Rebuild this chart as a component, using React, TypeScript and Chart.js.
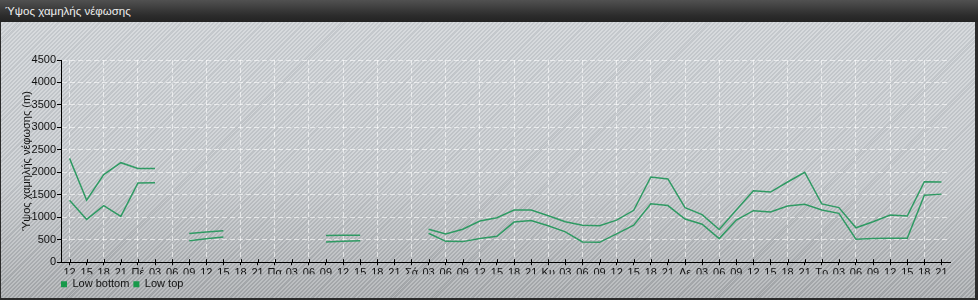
import React, { useEffect, useRef } from "react";
import { Chart, registerables } from "chart.js";

Chart.register(...registerables);

const TITLE = "Ύψος χαμηλής νέφωσης";
const Y_TITLE = "Ύψος χαμηλής νέφωσης (m)";

const xLabels = [
  "12", "15", "18", "21",
  "Πέ", "03", "06", "09", "12", "15", "18", "21",
  "Πα", "03", "06", "09", "12", "15", "18", "21",
  "Σά", "03", "06", "09", "12", "15", "18", "21",
  "Κυ", "03", "06", "09", "12", "15", "18", "21",
  "Δε", "03", "06", "09", "12", "15", "18", "21",
  "Τρ", "03", "06", "09", "12", "15", "18", "21",
];

const seriesNames = ["Low bottom", "Low top"];

const lowBottom = [
  1380, 952, 1260, 1020,
  1763, 1770, null, 480, 520, 560, null, null,
  null, null, null, 450, 465, 475, null, null,
  null, 645, 465, 458, 525, 578, 893, 930,
  810, 675, 450, 442, 630, 825, 1298, 1260,
  960, 845, 525, 937, 1147, 1117, 1252, 1290,
  1162, 1087, 510, 525, 532, 532, 1492, 1515,
];

const lowTop = [
  2310, 1380, 1950, 2215,
  2085, 2085, null, 640, 670, 700, null, null,
  null, null, null, 595, 600, 600, null, null,
  null, 735, 630, 735, 915, 990, 1162, 1162,
  1035, 900, 825, 810, 937, 1155, 1897, 1853,
  1215, 1060, 727, 1162, 1590, 1560, 1785, 2002,
  1297, 1215, 765, 900, 1050, 1027, 1792, 1785,
];

const Y_MIN = 0;
const Y_MAX = 4500;
const Y_STEP = 500;

const LINE_COLOR = "#2f9a63";
const LEGEND_COLOR = "#18994b";
const GRID_COLOR = "rgba(255,255,255,0.6)";
const FONT = '"Liberation Sans", Arial, sans-serif';

export default function App() {
  const ref = useRef<HTMLCanvasElement | null>(null);

  useEffect(() => {
    document.body.style.margin = "0";
    const canvas = ref.current;
    if (!canvas) return;

    const tweaks = {
      id: "tweaks",
      afterLayout(chart: any) {
        const lg = chart.legend;
        if (lg) {
          lg.left = 57;
          lg.top = chart.chartArea.bottom + 12.5;
        }
      },
      afterDraw(chart: any) {
        const x = chart.scales.x;
        const ctx = chart.ctx;
        ctx.save();
        ctx.strokeStyle = "#000";
        ctx.lineWidth = 1;
        ctx.beginPath();
        for (let i = 0; i < xLabels.length; i++) {
          const px = Math.round(x.getPixelForTick(i)) + 0.5;
          ctx.moveTo(px, x.top - 3);
          ctx.lineTo(px, x.top);
        }
        ctx.stroke();
        ctx.restore();
      },
    };

    const chart = new Chart(canvas, {
      type: "line",
      data: {
        labels: xLabels,
        datasets: [
          {
            label: seriesNames[0],
            data: lowBottom,
            borderColor: LINE_COLOR,
            backgroundColor: LEGEND_COLOR,
            borderWidth: 1.5,
            pointRadius: 0,
            spanGaps: false,
            tension: 0,
          },
          {
            label: seriesNames[1],
            data: lowTop,
            borderColor: LINE_COLOR,
            backgroundColor: LEGEND_COLOR,
            borderWidth: 1.5,
            pointRadius: 0,
            spanGaps: false,
            tension: 0,
          },
        ],
      },
      options: {
        animation: false,
        responsive: false,
        maintainAspectRatio: false,
        devicePixelRatio: 1,
        layout: { padding: { left: 0, right: 28, top: 38, bottom: 0.8 } },
        plugins: {
          tooltip: { enabled: false },
          title: { display: false },
          legend: {
            display: true,
            position: "bottom",
            align: "start",
            labels: {
              boxWidth: 6,
              boxHeight: 6,
              padding: 4,
              color: "#111",
              font: { family: FONT, size: 11 },
              generateLabels: (ch: any) =>
                Chart.defaults.plugins.legend.labels
                  .generateLabels(ch)
                  .map((l: any) => ({ ...l, lineWidth: 0, strokeStyle: "transparent", fillStyle: LEGEND_COLOR })),
            },
          },
        },
        scales: {
          x: {
            type: "category",
            offset: true,
            afterFit: (s: any) => {
              s.height = 12;
            },
            grid: {
              offset: false,
              drawOnChartArea: true,
              color: (c: any) => (c.index % 2 === 0 ? GRID_COLOR : "rgba(0,0,0,0)"),
              tickColor: "#000",
              tickLength: 3,
              lineWidth: 1,
            },
            border: { display: true, color: "#000", width: 1, dash: [5, 3] },
            ticks: {
              autoSkip: false,
              maxRotation: 0,
              minRotation: 0,
              padding: 1,
              color: "#111",
              font: { family: FONT, size: 11 },
            },
          },
          y: {
            min: Y_MIN,
            max: Y_MAX,
            afterFit: (s: any) => {
              s.width = 61;
            },
            grid: {
              color: GRID_COLOR,
              tickColor: "#000",
              tickLength: 4,
              lineWidth: 1,
            },
            border: { display: true, color: "#000", width: 1, dash: [5, 3] },
            ticks: {
              stepSize: Y_STEP,
              padding: 1,
              color: "#111",
              font: { family: FONT, size: 11 },
              callback: (v: any) => String(v),
            },
            title: {
              display: true,
              text: Y_TITLE,
              color: "#111",
              font: { family: FONT, size: 11 },
              padding: { top: 20, bottom: 0 },
            },
          },
        },
      },
      plugins: [tweaks],
    });

    return () => chart.destroy();
  }, []);

  return (
    <div
      style={{
        position: "absolute",
        left: 0,
        top: 0,
        width: 978,
        height: 300,
        overflow: "hidden",
        background:
          "repeating-linear-gradient(135deg, rgba(255,255,255,0.22) 0px, rgba(255,255,255,0.22) 1.4px, rgba(0,0,0,0.04) 1.4px, rgba(0,0,0,0.04) 2.9px), linear-gradient(#ced2d6, #c4c8cc 60%, #a6a9ac)",
        fontFamily: FONT,
      }}
    >
      <div
        style={{
          position: "absolute",
          left: 0,
          top: 0,
          width: 978,
          height: 22,
          background: "linear-gradient(#515151, #2c2c2c 70%, #232323)",
          color: "#eeeeee",
          fontSize: 11.5,
          lineHeight: "22px",
          paddingLeft: 5,
          boxSizing: "border-box",
          whiteSpace: "nowrap",
        }}
      >
        {TITLE}
      </div>
      <canvas
        ref={ref}
        width={978}
        height={278}
        style={{ position: "absolute", left: 0, top: 22, width: 978, height: 278 }}
      />
      <div style={{ position: "absolute", left: 0, top: 22, width: 1, height: 278, background: "#2b2b2b" }} />
      <div style={{ position: "absolute", right: 0, top: 22, width: 3, height: 278, background: "#2b2b2b" }} />
      <div style={{ position: "absolute", left: 0, bottom: 0, width: 978, height: 2, background: "#2b2b2b" }} />
    </div>
  );
}
